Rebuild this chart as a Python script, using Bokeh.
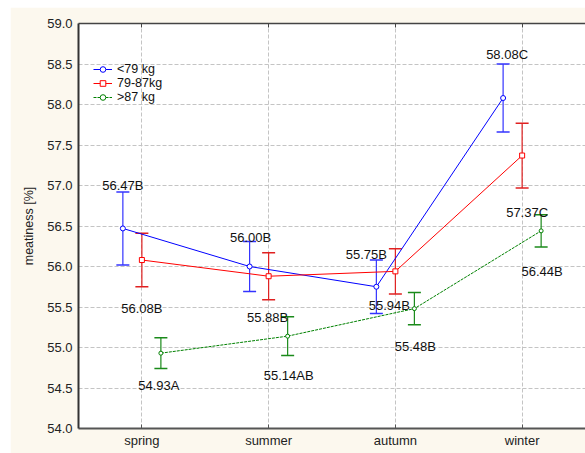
from bokeh.plotting import figure
from bokeh.models import (ColumnDataSource, Whisker, TeeHead, FixedTicker, PrintfTickFormatter,
                          LinearAxis, Legend, LegendItem, Range1d, LabelSet)
from bokeh.core.properties import value
from bokeh.embed import file_html
from bokeh.resources import INLINE

seasons = ["spring", "summer", "autumn", "winter"]
groups = ["<79 kg", "79-87kg", ">87 kg"]
means_lt79 = [56.47, 56.00, 55.75, 58.08]
means_79_87 = [56.08, 55.88, 55.94, 57.37]
means_gt87 = [54.93, 55.14, 55.48, 56.44]
err_lt79 = [0.45, 0.31, 0.33, 0.42]
err_79_87 = [0.33, 0.29, 0.28, 0.40]
err_gt87 = [0.19, 0.24, 0.20, 0.20]
letters_lt79 = ["B", "B", "B", "C"]
letters_79_87 = ["B", "B", "B", "C"]
letters_gt87 = ["A", "AB", "B", "B"]
y_ticks = [54.0, 54.5, 55.0, 55.5, 56.0, 56.5, 57.0, 57.5, 58.0, 58.5, 59.0]

FONT = "Liberation Sans"
FS = "13px"
cat_x = [i + 1 for i in range(len(seasons))]

p = figure(width=575, height=446, output_backend="svg", toolbar_location=None,
           x_range=Range1d(0.5, 4.5), y_range=Range1d(54.0, 59.0),
           min_border_left=68, min_border_top=16, min_border_bottom=25, min_border_right=0,
           background_fill_color="white", border_fill_color="#FCF8EE")
p.margin = (7, 0, 0, 10)
p.outline_line_color = None

# grid
p.xgrid.ticker = FixedTicker(ticks=cat_x)
p.ygrid.ticker = FixedTicker(ticks=y_ticks)
for g in (p.xgrid, p.ygrid):
    g.grid_line_color = "#c4c4c4"
    g.grid_line_dash = "4 2"
    g.grid_line_width = 1

# x axis
xa = p.xaxis[0]
xa.ticker = FixedTicker(ticks=cat_x)
xa.major_label_overrides = {i + 1: s for i, s in enumerate(seasons)}
xa.major_label_text_font = FONT
xa.major_label_text_font_size = FS
xa.major_label_text_color = "#222222"
xa.major_label_standoff = 4
xa.major_tick_in = 4
xa.major_tick_out = 0
xa.minor_tick_line_color = None
xa.axis_line_color = "#555555"
xa.axis_line_width = 2
xa.major_tick_line_color = "#555555"

# y axis
ya = p.yaxis[0]
ya.ticker = FixedTicker(ticks=y_ticks)
ya.formatter = PrintfTickFormatter(format="%.1f")
ya.major_label_text_font = FONT
ya.major_label_text_font_size = FS
ya.major_label_text_color = "#222222"
ya.major_label_standoff = 6
ya.major_tick_in = 0
ya.major_tick_out = 0
ya.minor_tick_line_color = None
ya.axis_line_color = "#333333"
ya.axis_line_width = 2
ya.axis_label = "meatiness [%]"
ya.axis_label_text_font = FONT
ya.axis_label_text_font_style = "normal"
ya.axis_label_text_font_size = "12.5px"
ya.axis_label_text_color = "#222222"
ya.axis_label_standoff = 8

# top border axis (line + small inward ticks, no labels)
top = LinearAxis(ticker=FixedTicker(ticks=[], minor_ticks=cat_x),
                 major_tick_line_color=None, minor_tick_in=4, minor_tick_out=0,
                 minor_tick_line_color="#444444", axis_line_color="#444444", axis_line_width=1.5,
                 major_label_standoff=0)
p.add_layout(top, "above")

series = [
    dict(m=means_lt79, e=err_lt79, l=letters_lt79, color="#0000ff", cap="#3333ff", off=-0.15,
         marker="circle", size=5, dash="solid",
         dx=[0, 1, -10, 4], dy=[-43, -29, -32, -44]),
    dict(m=means_79_87, e=err_79_87, l=letters_79_87, color="#ff0000", cap="#e02020", off=0.0,
         marker="square", size=5, dash="solid",
         dx=[0, -1, -6, 5], dy=[48, 41, 34, 57]),
    dict(m=means_gt87, e=err_gt87, l=letters_gt87, color="#008000", cap="#1a8a1a", off=0.15,
         marker="circle", size=4, dash="3 1",
         dx=[-2, 1, 1, 1], dy=[32, 39, 38, 41]),
]

items = []
for name, s in zip(groups, series):
    xs = [c + s["off"] for c in cat_x]
    src = ColumnDataSource(dict(
        x=xs, y=s["m"],
        upper=[m + e for m, e in zip(s["m"], s["e"])],
        lower=[m - e for m, e in zip(s["m"], s["e"])],
        txt=[f"{m:.2f}{l}" for m, l in zip(s["m"], s["l"])],
        dx=s["dx"], dy=[-d for d in s["dy"]],
    ))
    w = Whisker(source=src, base="x", upper="upper", lower="lower", dimension="height",
                line_color=s["cap"], line_width=1.2,
                upper_head=TeeHead(size=13, line_color=s["cap"], line_width=1.5),
                lower_head=TeeHead(size=13, line_color=s["cap"], line_width=1.5))
    p.add_layout(w)
    ln = p.line("x", "y", source=src, line_color=s["color"], line_width=1, line_dash=s["dash"])
    sc = p.scatter("x", "y", source=src, marker=s["marker"], size=s["size"],
                   line_color=s["color"], fill_color="white", line_width=1)
    items.append(LegendItem(label=name, renderers=[ln, sc]))
    labels = LabelSet(x="x", y="y", text="txt", source=src, x_offset="dx", y_offset="dy",
                      text_font=value(FONT), text_font_size=value(FS), text_color="#111111",
                      text_align="center", text_baseline="middle")
    p.add_layout(labels)

legend = Legend(items=items, location=(15, 324), padding=0, margin=0, spacing=0,
                glyph_width=19, glyph_height=14, label_height=14, label_standoff=5,
                label_text_font=FONT, label_text_font_size="12.5px", label_text_color="#111111",
                background_fill_alpha=0, border_line_color=None)
p.add_layout(legend)

open("out.html", "w").write(file_html(p, INLINE))
